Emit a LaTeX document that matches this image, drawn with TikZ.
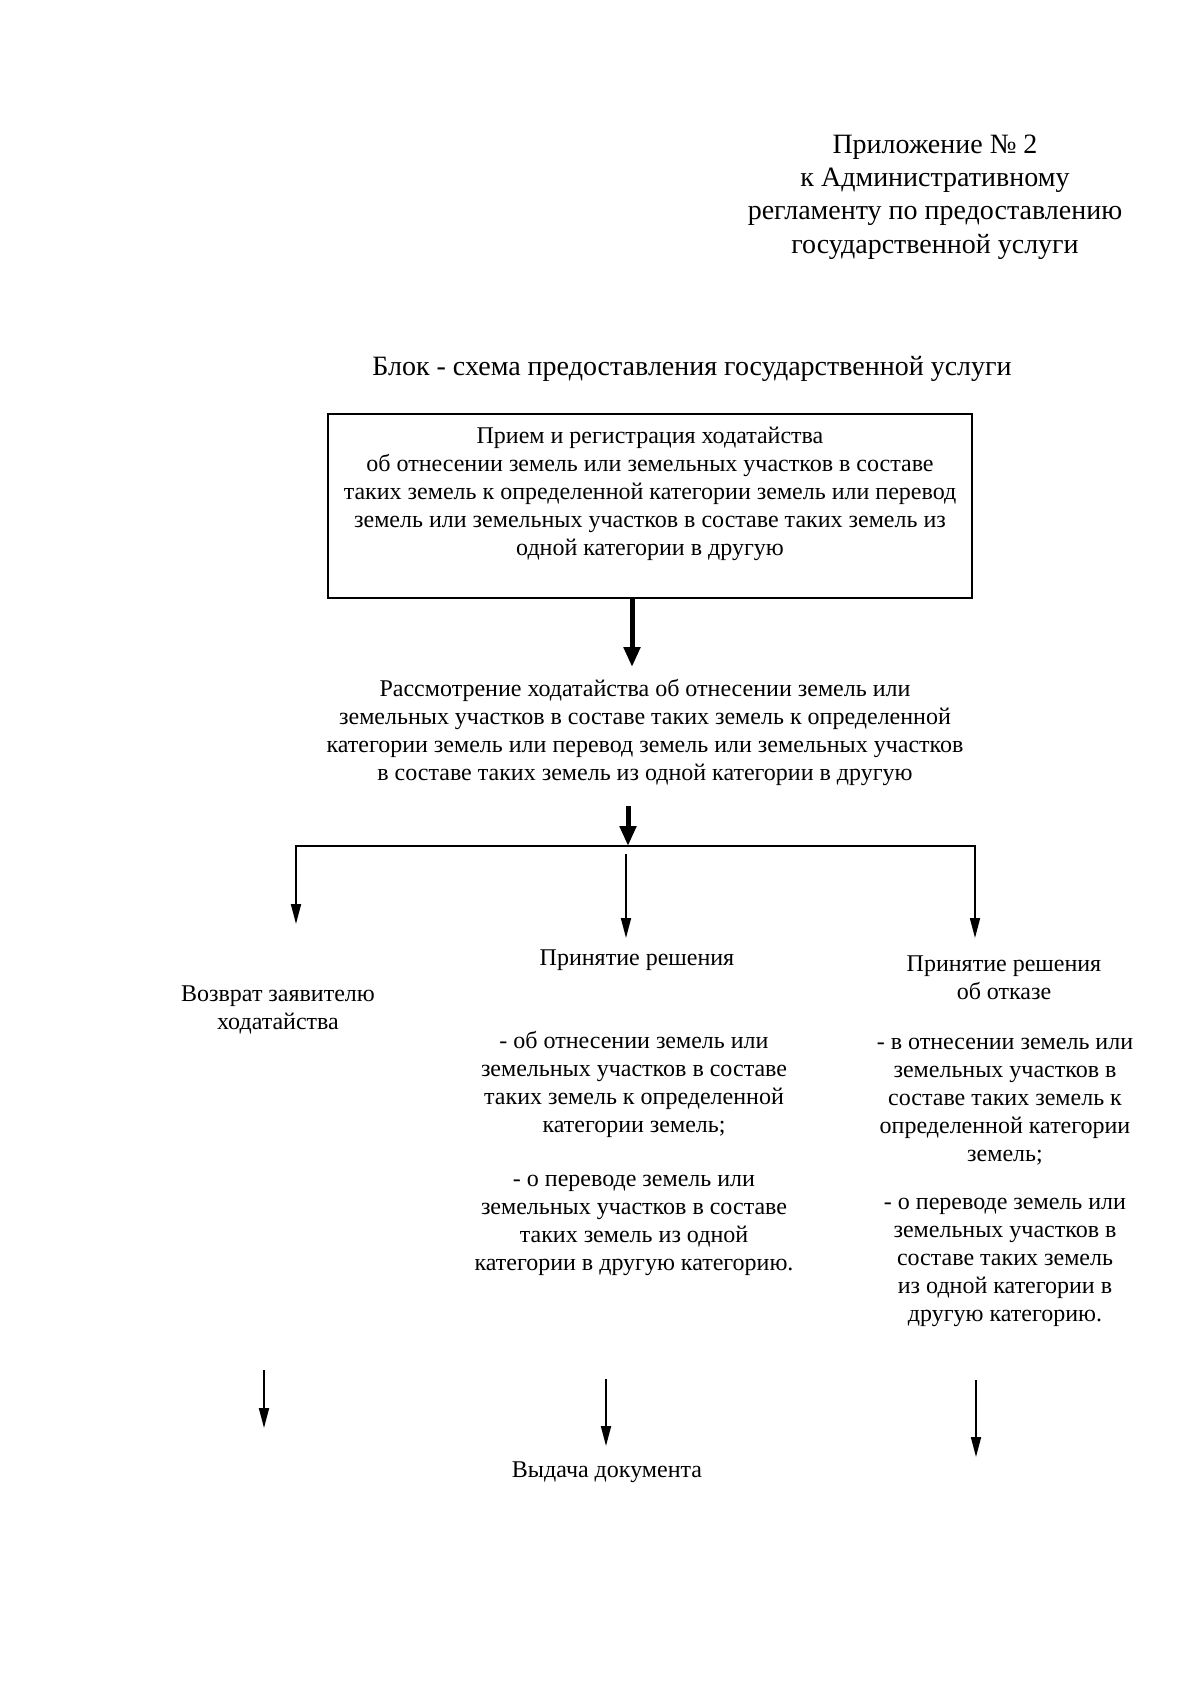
\documentclass[tikz,border=0pt]{standalone}
\usepackage{fontspec}
\setmainfont{Liberation Serif}
\usetikzlibrary{arrows.meta}
\begin{document}
\begin{tikzpicture}[x=0.5pt,y=-0.5pt,
  hdr/.style={align=center, font=\fontsize{14}{16.65}\selectfont, inner sep=0pt},
  txt/.style={align=center, font=\fontsize{12}{14}\selectfont, inner sep=0pt},
  lst/.style={align=center, font=\fontsize{12}{14}\selectfont, inner sep=0pt},
  boxst/.style={draw, line width=1pt, minimum width=322pt, minimum height=92pt, inner sep=0pt},
  arrthin/.style={line width=0.9pt, -{Triangle[length=10pt,width=5pt]}},
  arrthick/.style={line width=2.5pt, -{Triangle[length=10pt,width=8pt]}}]
\useasboundingbox (0,0) rectangle (1200,1697);

% header
\node[hdr] (hdr) at (935,197) {Приложение № 2\\к Административному\\регламенту по предоставлению\\государственной услуги};
\node[hdr] (title) at (692,369) {Блок - схема предоставления государственной услуги};

% first box
\node[boxst] (box) at (650,506) {};
\node[txt] (boxtext) at (650,494) {Прием и регистрация ходатайства\\об отнесении земель или земельных участков в составе\\таких земель к определенной категории земель или перевод\\земель или земельных участков в составе таких земель из\\одной категории в другую};

% review
\node[txt] (review) at (645,732) {Рассмотрение ходатайства об отнесении земель или\\земельных участков в составе таких земель к определенной\\категории земель или перевод земель или земельных участков\\в составе таких земель из одной категории в другую};

\coordinate (a1e) at (632,667);
\draw[arrthick] (box.south -| a1e) -- (a1e);

\coordinate (a2s) at (628,806);
\coordinate (j) at (628,846);
\draw[arrthick] (a2s) -- (j);

% branches
\coordinate (lt) at (296,924);
\coordinate (ct) at (626,938);
\coordinate (rt) at (975,938);
\draw[arrthin] (j) -| (lt);
\draw[arrthin] (j) -| (rt);
\draw[arrthin] ([yshift=-4pt]j -| ct) -- (ct);

% decisions
\node[txt] (ret) at (278,1010) {Возврат заявителю\\ходатайства};
\node[txt] (acc) at (637,960) {Принятие решения};
\node[txt] (rej) at (1004,978) {Принятие решения\\об отказе};

\node[lst] (acclist) at (634,1153) {- об отнесении земель или\\земельных участков в составе\\таких земель к определенной\\категории земель;\\[13pt]- о переводе земель или\\земельных участков в составе\\таких земель из одной\\категории в другую категорию.};

\node[lst] (rejlist) at (1005,1182) {- в отнесении земель или\\земельных участков в\\составе таких земель к\\определенной категории\\земель;\\[10pt]- о переводе земель или\\земельных участков в\\составе таких земель\\из одной категории в\\другую категорию.};

% bottom arrows
\coordinate (bl1) at (264,1370);
\coordinate (bl2) at (264,1428);
\coordinate (bc1) at (606,1379);
\coordinate (bc2) at (606,1446);
\coordinate (br1) at (976,1380);
\coordinate (br2) at (976,1457);
\draw[arrthin] (bl1) -- (bl2);
\draw[arrthin] (bc1) -- (bc2);
\draw[arrthin] (br1) -- (br2);

\node[txt] (issue) at (607,1472) {Выдача документа};
\end{tikzpicture}
\end{document}
